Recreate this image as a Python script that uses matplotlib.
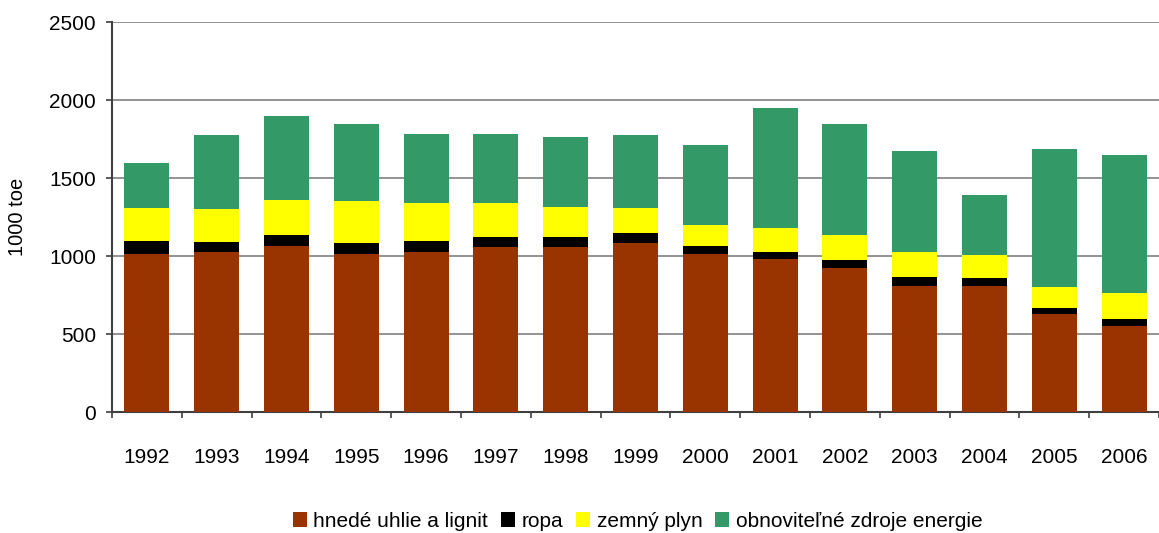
import matplotlib.pyplot as plt
import numpy as np
from matplotlib.ticker import FixedLocator

plt.rcParams['font.family'] = ['Liberation Sans', 'DejaVu Sans']

years = ['1992', '1993', '1994', '1995', '1996', '1997', '1998', '1999',
         '2000', '2001', '2002', '2003', '2004', '2005', '2006']
hnede_uhlie = [1013, 1026, 1064, 1013, 1026, 1058, 1058, 1083, 1013, 981, 924, 809, 809, 630, 553]
ropa = [83, 64, 70, 70, 70, 63, 63, 64, 51, 45, 51, 57, 51, 38, 45]
zemny_plyn = [211, 210, 224, 268, 242, 217, 192, 160, 134, 153, 159, 160, 147, 134, 166]
obnovitelne = [287, 473, 542, 498, 447, 447, 447, 466, 511, 772, 715, 644, 383, 881, 881]

series = [
    (hnede_uhlie, 'hnedé uhlie a lignit', '#993300'),
    (ropa, 'ropa', '#000000'),
    (zemny_plyn, 'zemný plyn', '#ffff00'),
    (obnovitelne, 'obnoviteľné zdroje energie', '#339966'),
]

fig = plt.figure(figsize=(11.59, 5.33), dpi=100)
ax = fig.add_axes([0.0966, 0.227, 0.9034, 0.7317])

x = np.arange(len(years))
bottom = np.zeros(len(years))
for vals, name, col in series:
    ax.bar(x, vals, width=0.643, bottom=bottom, color=col, label=name, zorder=3)
    bottom += np.array(vals)

ax.set_xlim(-0.5, len(years) - 0.5)
ax.set_ylim(0, 2500)
ax.set_yticks(range(0, 2501, 500))
ax.yaxis.grid(True, color='#808080', linewidth=1.2, zorder=0)
ax.set_axisbelow(True)

ax.set_xticks(x)
ax.set_xticklabels(years)
ax.xaxis.set_minor_locator(FixedLocator(np.arange(-0.5, len(years), 1.0)))
ax.tick_params(axis='x', which='major', length=0, pad=26, labelsize=15)
ax.tick_params(axis='x', which='minor', length=4, width=1.2, color='#404040', direction='out')
ax.tick_params(axis='y', length=4.5, width=1.2, color='#404040', labelsize=15, pad=7)

for s in ['top', 'right']:
    ax.spines[s].set_visible(False)
for s in ['left', 'bottom']:
    ax.spines[s].set_color('#404040')
    ax.spines[s].set_linewidth(1.5)

ax.set_ylabel('1000 toe', fontsize=14.5, labelpad=16)

fig.legend(loc='center', bbox_to_anchor=(0.55, 0.022), ncol=4, frameon=False,
           fontsize=15, handlelength=0.7, handleheight=0.7, handletextpad=0.3,
           columnspacing=0.6)

fig.savefig('out.png', dpi=100)
